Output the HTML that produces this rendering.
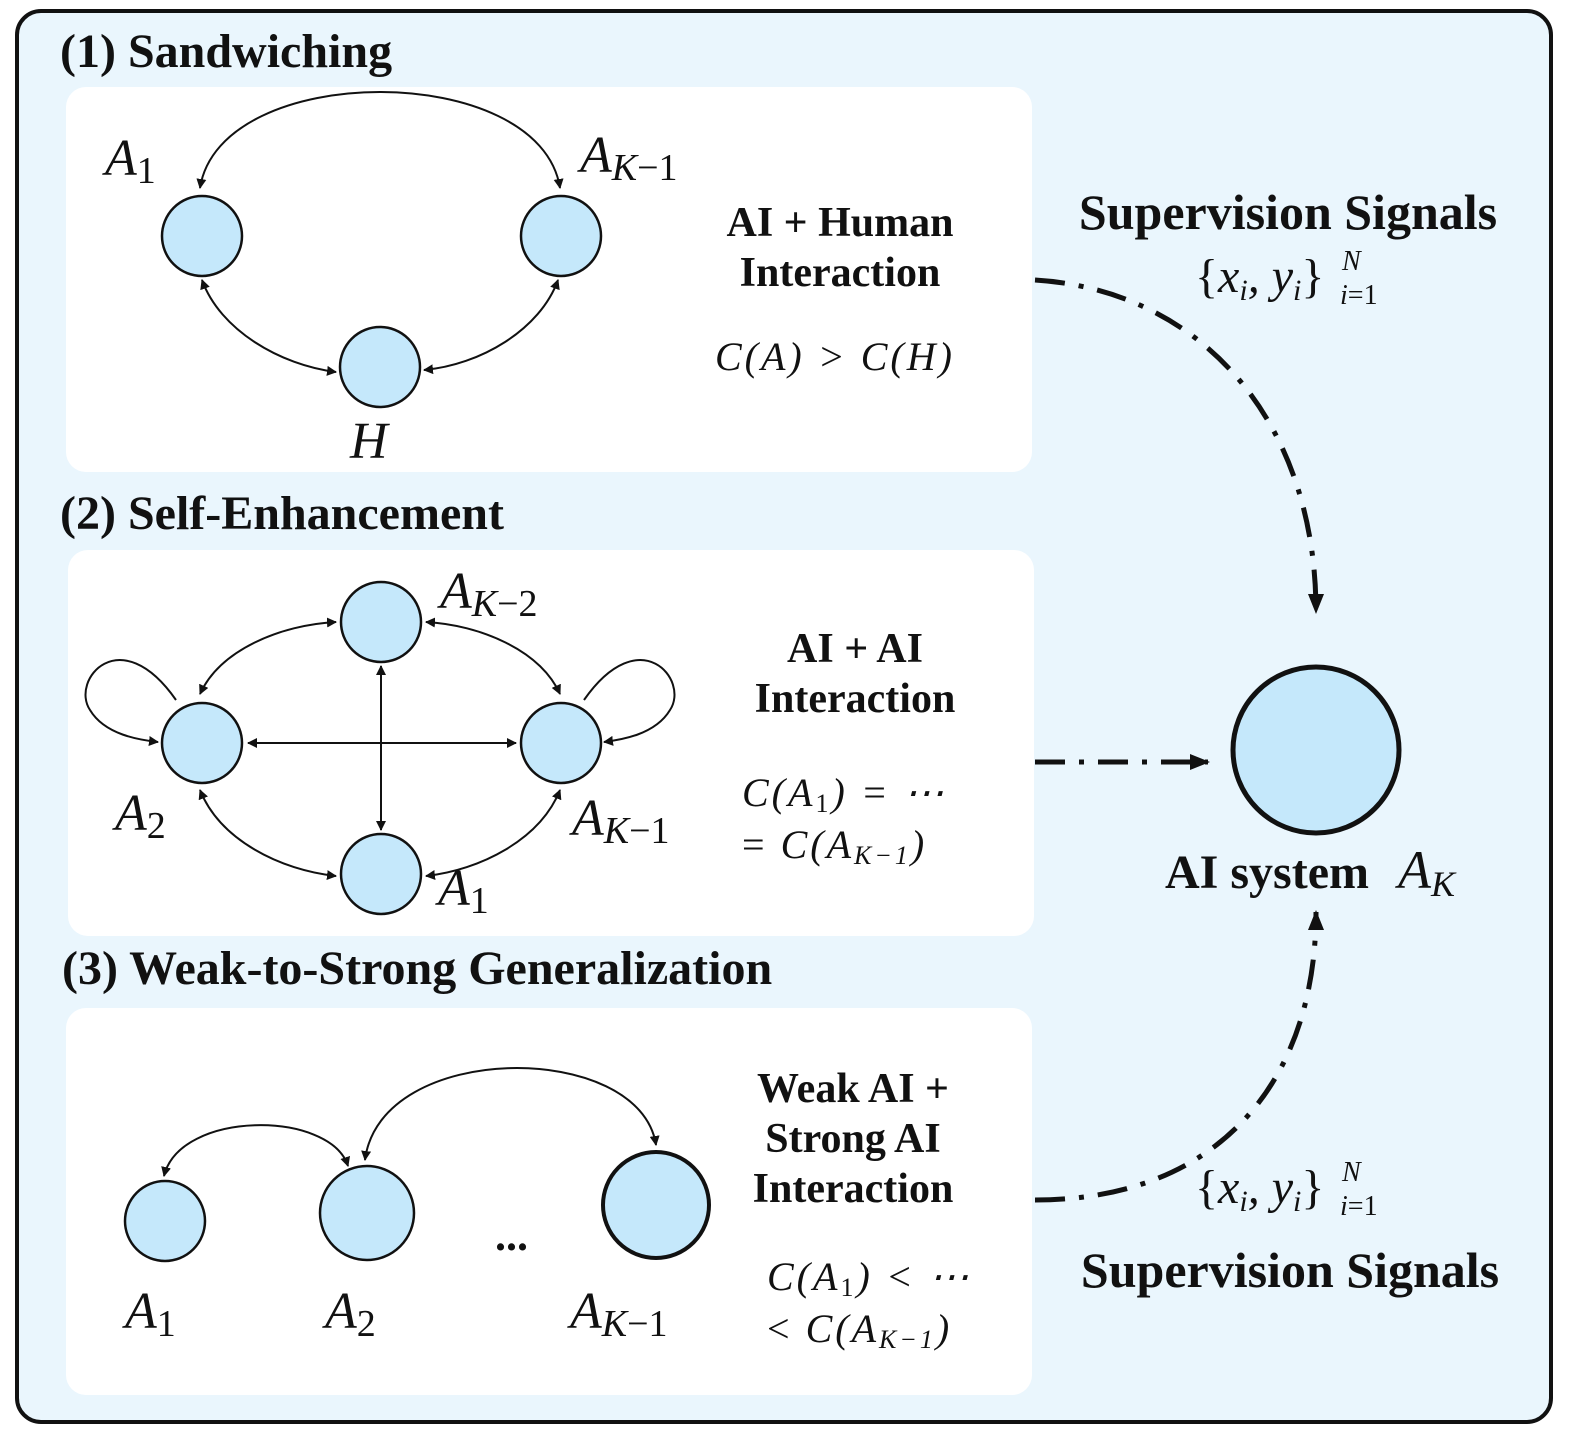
<!DOCTYPE html>
<html><head><meta charset="utf-8"><style>
html,body{margin:0;padding:0;background:#fff}
svg{display:block}
.t{font-family:"Liberation Serif",serif;font-weight:bold;fill:#111}
.m{font-family:"Liberation Serif",serif;font-style:italic;fill:#111}
</style></head><body>
<svg width="1577" height="1441" viewBox="0 0 1577 1441" xmlns="http://www.w3.org/2000/svg">
<defs>
<marker id="a" markerWidth="10" markerHeight="10" refX="9" refY="5" orient="auto-start-reverse" markerUnits="userSpaceOnUse"><path d="M0,0 L10,5 L0,10 Z" fill="#111"/></marker>
<marker id="b" markerWidth="20" markerHeight="20" refX="18" refY="10" orient="auto" markerUnits="userSpaceOnUse"><path d="M0,2 L20,10 L0,18 Z" fill="#111"/></marker>
</defs>
<rect x="17" y="11" width="1534" height="1411" rx="24" fill="#eaf6fd" stroke="#111" stroke-width="4"/>
<rect x="66" y="87" width="966" height="385" rx="20" fill="#fff"/>
<rect x="68" y="550" width="966" height="386" rx="20" fill="#fff"/>
<rect x="66" y="1008" width="966" height="387" rx="20" fill="#fff"/>

<text class="t" x="60" y="67" font-size="48">(1) Sandwiching</text>
<text class="t" x="60" y="529" font-size="48">(2) Self-Enhancement</text>
<text class="t" x="62" y="984" font-size="48">(3) Weak-to-Strong Generalization</text>

<g fill="#c5e8fb" stroke="#111" stroke-width="2.5">
<circle cx="202" cy="236" r="40"/><circle cx="561" cy="236" r="40"/><circle cx="380" cy="367" r="40"/>
<circle cx="381" cy="622" r="40"/><circle cx="202" cy="743" r="40"/><circle cx="561" cy="743" r="40"/><circle cx="381" cy="874" r="40"/>
<circle cx="165" cy="1221" r="40"/><circle cx="367" cy="1213" r="47"/>
<circle cx="656" cy="1205" r="53" stroke-width="4"/>
<circle cx="1316" cy="750" r="83" stroke-width="5"/>
</g>

<g fill="none" stroke="#111" stroke-width="2" marker-start="url(#a)" marker-end="url(#a)">
<path d="M200,188 C220,60 540,60 560,188"/>
<path d="M202,280 C220,330 280,365 336,372"/>
<path d="M558,280 C540,330 480,365 424,370"/>
<path d="M200,694 C220,650 280,625 336,622"/>
<path d="M560,694 C540,650 480,625 426,622"/>
<path d="M200,790 C220,840 280,870 336,876"/>
<path d="M560,790 C540,840 480,870 426,876"/>
<path d="M248,743 L516,743"/>
<path d="M381,666 L381,830"/>
<path d="M164,1176 C180,1110 330,1110 348,1166"/>
<path d="M365,1160 C380,1040 640,1040 656,1145"/>
</g>
<g fill="none" stroke="#111" stroke-width="2" marker-end="url(#a)">
<path d="M176,700 C120,620 70,680 90,710 C105,735 140,740 158,742"/>
<path d="M584,700 C640,620 690,680 670,710 C655,735 620,740 604,742"/>
</g>

<g fill="none" stroke="#111" stroke-width="5" stroke-dasharray="30,14,5,14" marker-end="url(#b)">
<path d="M1035,280 C1200,290 1316,420 1316,612"/>
<path d="M1035,762 L1208,762"/>
<path d="M1035,1200 C1220,1200 1316,1080 1316,912"/>
</g>

<g class="m" font-size="52">
<text x="105" y="175">A<tspan font-size="38" font-style="normal" dy="8">1</tspan></text>
<text x="580" y="172">A<tspan font-size="38" dy="8">K</tspan><tspan font-size="38" font-style="normal">−1</tspan></text>
<text x="350" y="458">H</text>
<text x="440" y="608">A<tspan font-size="38" dy="8">K</tspan><tspan font-size="38" font-style="normal">−2</tspan></text>
<text x="115" y="830">A<tspan font-size="38" font-style="normal" dy="8">2</tspan></text>
<text x="572" y="835">A<tspan font-size="38" dy="8">K</tspan><tspan font-size="38" font-style="normal">−1</tspan></text>
<text x="438" y="905">A<tspan font-size="38" font-style="normal" dy="8">1</tspan></text>
<text x="125" y="1328">A<tspan font-size="38" font-style="normal" dy="8">1</tspan></text>
<text x="325" y="1328">A<tspan font-size="38" font-style="normal" dy="8">2</tspan></text>
<text x="570" y="1328">A<tspan font-size="38" dy="8">K</tspan><tspan font-size="38" font-style="normal">−1</tspan></text>
</g>

<g class="t" font-size="42" text-anchor="middle">
<text x="840" y="236">AI + Human</text><text x="840" y="286">Interaction</text>
<text x="855" y="662">AI + AI</text><text x="855" y="712">Interaction</text>
<text x="853" y="1102">Weak AI +</text><text x="853" y="1152">Strong AI</text><text x="853" y="1202">Interaction</text>
<text x="1288" y="229" font-size="50">Supervision Signals</text>
<text x="1290" y="1287" font-size="50">Supervision Signals</text>
</g>
<text class="t" x="1165" y="888" font-size="48">AI system</text>
<text class="m" x="1398" y="888" font-size="54">A<tspan font-size="36" dy="8">K</tspan></text>
<text class="t" x="495" y="1250" font-size="44">...</text>

<g class="m" font-size="40" letter-spacing="3">
<text x="715" y="370">C(A) &gt; C(H)</text>
<text x="742" y="806">C(A<tspan font-size="26" font-style="normal" dy="6">1</tspan><tspan dy="-6">) = ⋯</tspan></text>
<text x="742" y="858"><tspan font-style="normal">= </tspan>C(A<tspan font-size="26" dy="6">K−1</tspan><tspan dy="-6">)</tspan></text>
<text x="767" y="1290">C(A<tspan font-size="26" font-style="normal" dy="6">1</tspan><tspan dy="-6">) &lt; ⋯</tspan></text>
<text x="767" y="1342"><tspan font-style="normal">&lt; </tspan>C(A<tspan font-size="26" dy="6">K−1</tspan><tspan dy="-6">)</tspan></text>
</g>
<g class="m">
<text x="1195" y="292" font-size="48"><tspan font-style="normal">{</tspan>x<tspan font-size="30" dy="8">i</tspan><tspan dy="-8">, y</tspan><tspan font-size="30" dy="8">i</tspan><tspan dy="-8" font-style="normal">}</tspan></text>
<text x="1342" y="270" font-size="28">N</text><text x="1340" y="304" font-size="28">i<tspan font-style="normal">=1</tspan></text>
<text x="1195" y="1203" font-size="48"><tspan font-style="normal">{</tspan>x<tspan font-size="30" dy="8">i</tspan><tspan dy="-8">, y</tspan><tspan font-size="30" dy="8">i</tspan><tspan dy="-8" font-style="normal">}</tspan></text>
<text x="1342" y="1181" font-size="28">N</text><text x="1340" y="1215" font-size="28">i<tspan font-style="normal">=1</tspan></text>
</g>
</svg>
</body></html>
